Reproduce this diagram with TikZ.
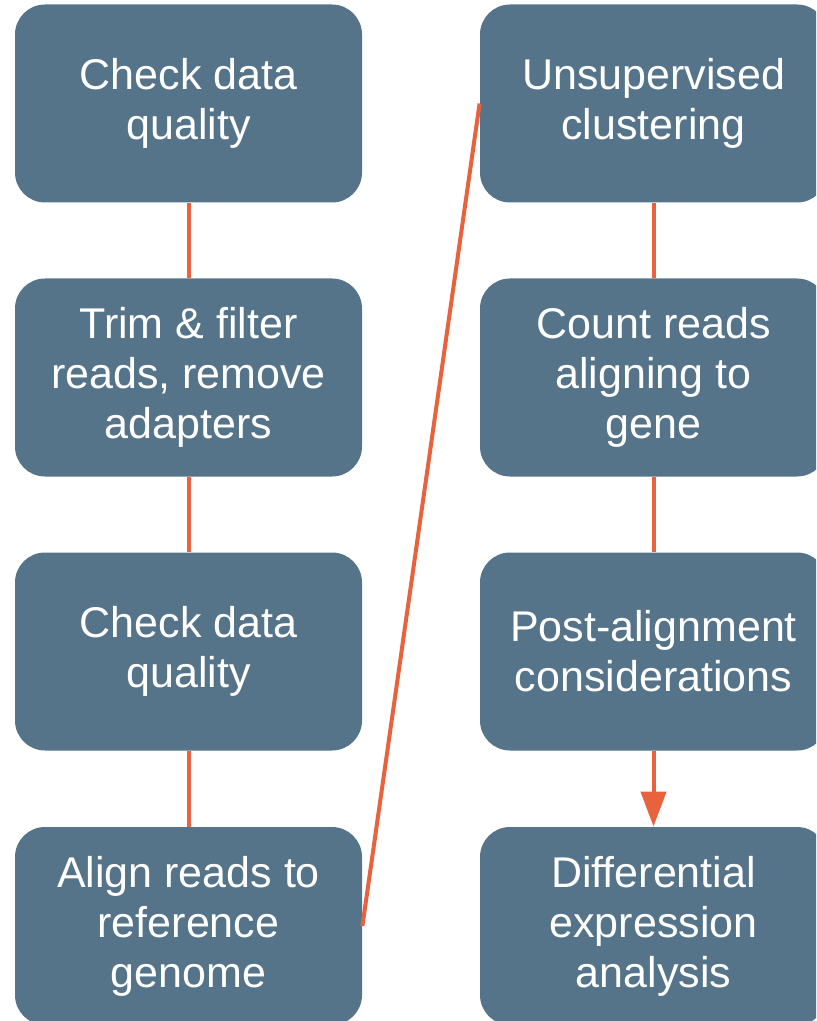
\documentclass[tikz,border=0pt]{standalone}
\usepackage{fontspec}
\setmainfont{Liberation Sans}
\usetikzlibrary{arrows.meta}

\definecolor{boxblue}{HTML}{557489}
\definecolor{linkred}{HTML}{E8623E}

\tikzset{
    stepbox/.style={fill=boxblue, rounded corners=15pt, minimum width=173.5pt,
        minimum height=99pt, inner sep=0pt, text=white, align=center,
        font=\fontsize{21.5}{25}\selectfont},
    link/.style={draw=linkred, line width=2pt}
}

\begin{document}
\begin{tikzpicture}[x=0.5pt, y=-0.5pt]
    \useasboundingbox (0,0) rectangle (816,1021);
    \clip (0,0) rectangle (816,1021);
    % Left column
    \node[stepbox] (qc1) at (188.5, 103.5) {Check data\\quality};
    \node[stepbox] (trim) at (188.5, 377.5) {Trim \& filter\\reads, remove\\adapters};
    \node[stepbox] (qc2) at (188.5, 651.5) {Check data\\quality};
    \node[stepbox] (align) at (188.5, 926) {Align reads to\\reference\\genome};
    % Right column
    \node[stepbox] (clust) at (653.5, 103.5) {Unsupervised\\clustering};
    \node[stepbox] (count) at (653.5, 377.5) {Count reads\\aligning to\\gene};
    \node[stepbox] (post) at (653.5, 651.5) {Post-alignment\\considerations};
    \node[stepbox] (diff) at (653.5, 926) {Differential\\expression\\analysis};
    % Connectors
    \draw[link] (qc1) -- (trim);
    \draw[link] (trim) -- (qc2);
    \draw[link] (qc2) -- (align);
    \draw[link] (align.east) -- (clust.west);
    \draw[link] (clust) -- (count);
    \draw[link] (count) -- (post);
    \draw[link, -{Triangle[width=12.5pt, length=17.5pt]}] (post) -- (diff);
\end{tikzpicture}
\end{document}
